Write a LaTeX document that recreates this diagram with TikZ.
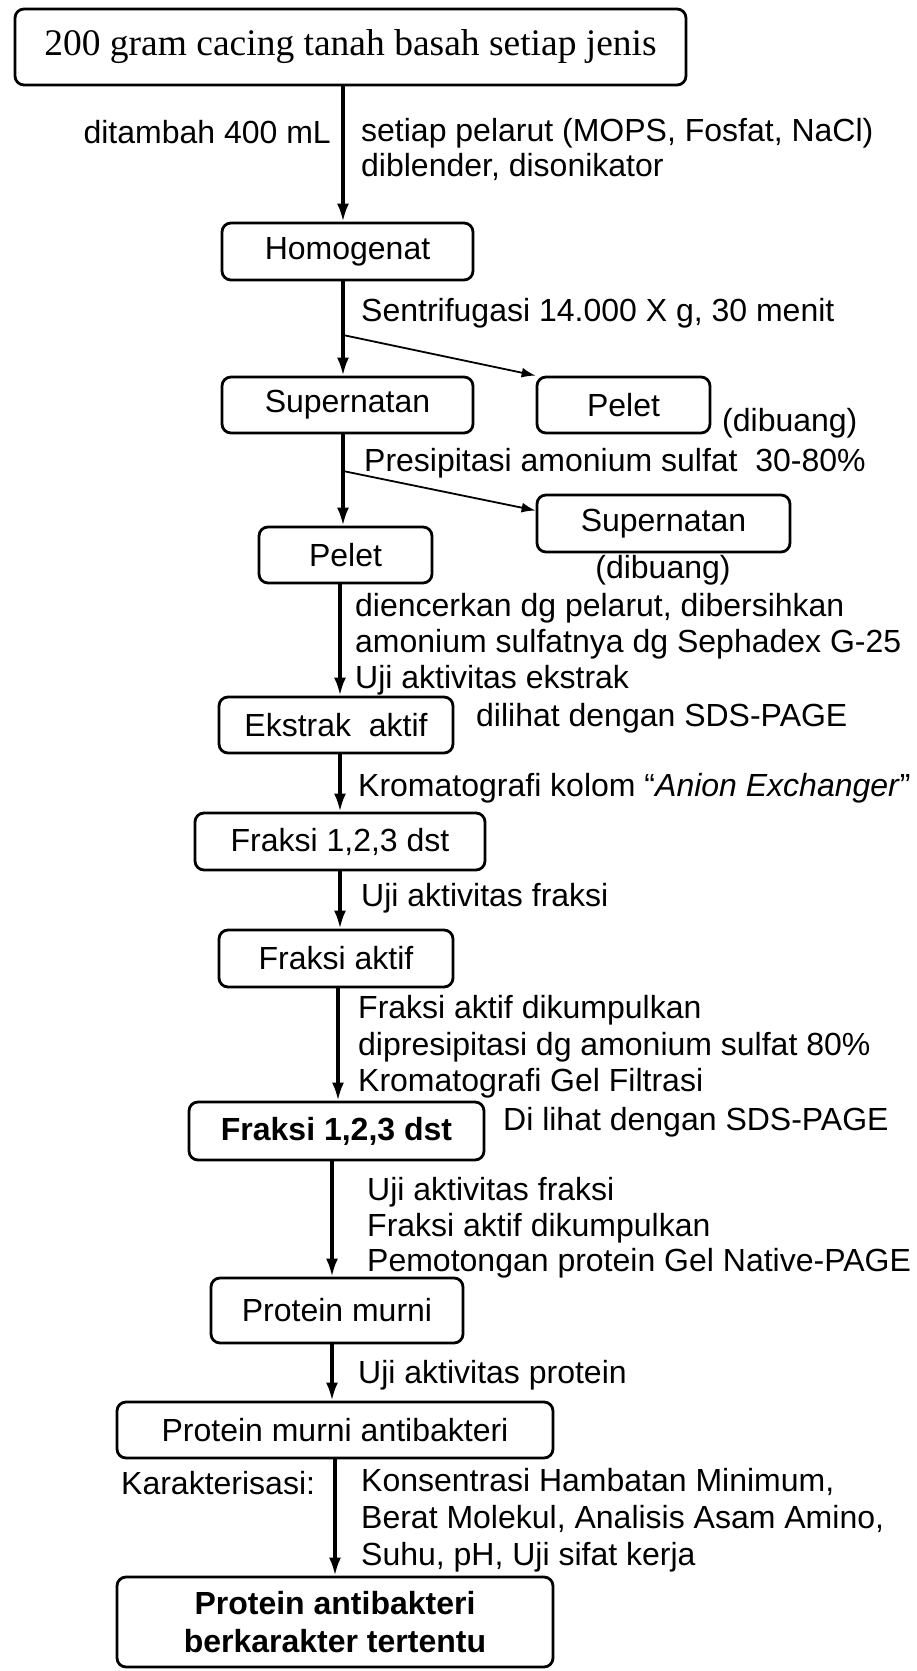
\documentclass[tikz,border=0pt]{standalone}
\usepackage{fontspec}
\setmainfont{Liberation Sans}
\newfontfamily\serifx{Liberation Serif}
\usepackage{tikz}
\usetikzlibrary{arrows.meta}
\newcommand{\txt}{\fontsize{32}{36}\selectfont}
\tikzset{
  box/.style={draw,line width=2.8pt,rounded corners=9pt,inner sep=0pt,align=center,font=\txt},
  ar/.style={-{Latex[length=18pt,width=12pt]},line width=3.2pt},
  arthin/.style={-{Latex[length=14pt,width=10pt]},line width=1.8pt},
  lbl/.style={inner sep=0pt,align=left,anchor=west,font=\txt}
}
\begin{document}
\begin{tikzpicture}[x=1pt,y=-1pt]
\useasboundingbox (0,0) rectangle (917,1671);
% boxes of the main column
\node[box,font=\serifx\fontsize{37.5}{40}\selectfont,minimum width=671pt,minimum height=76pt] (top) at (350.5,47) {200 gram cacing tanah basah setiap jenis};
\node[box,minimum width=251pt,minimum height=57pt] (homog) at (347.5,251.5) {Homogenat};
\node[box,minimum width=251pt,minimum height=56pt] (super1) at (347.5,405) {Supernatan};
\node[box,minimum width=173pt,minimum height=56pt] (pelet1) at (623.5,405) {Pelet};
\node[box,minimum width=253pt,minimum height=57pt] (super2) at (663.5,523.5) {Supernatan};
\node[box,minimum width=173pt,minimum height=56pt] (pelet2) at (345.5,555) {Pelet};
\node[box,minimum width=234pt,minimum height=56pt] (ekstrak) at (336,725) {Ekstrak\ \ aktif};
\node[box,minimum width=290pt,minimum height=57pt] (fraksi1) at (340,841.5) {Fraksi 1,2,3 dst};
\node[box,minimum width=234pt,minimum height=57pt] (faktif) at (336,958.5) {Fraksi aktif};
\node[box,font=\txt\bfseries,minimum width=295pt,minimum height=58pt] (fraksi2) at (336.5,1131) {Fraksi 1,2,3 dst};
\node[box,minimum width=252pt,minimum height=65pt] (murni) at (337,1310.5) {Protein murni};
\node[box,minimum width=436pt,minimum height=56pt] (antibak) at (335,1430) {Protein murni antibakteri};
\node[box,font=\fontsize{32}{38}\selectfont\bfseries,minimum width=436pt,minimum height=90pt] (final) at (335,1622) {Protein antibakteri\\berkarakter tertentu};
% main arrows
\coordinate (s1) at (343,0);
\coordinate (s2) at (340,0);
\coordinate (s3) at (338,0);
\coordinate (s4) at (332,0);
\coordinate (s5) at (335,0);
\draw[ar] (top.south -| s1) -- (homog.north -| s1);
\draw[ar] (homog.south -| s1) -- (super1.north -| s1);
\draw[ar] (super1.south -| s1) -- (pelet2.north -| s1);
\draw[ar] (pelet2.south -| s2) -- (ekstrak.north -| s2);
\draw[ar] (ekstrak.south -| s2) -- (fraksi1.north -| s2);
\draw[ar] (fraksi1.south -| s2) -- (faktif.north -| s2);
\draw[ar] (faktif.south -| s3) -- (fraksi2.north -| s3);
\draw[ar] (fraksi2.south -| s4) -- (murni.north -| s4);
\draw[ar] (murni.south -| s4) -- (antibak.north -| s4);
\draw[ar] (antibak.south -| s5) -- (final.north -| s5);
% side branches
\coordinate (b1) at (343,335);
\coordinate (b2) at (343,471);
\draw[arthin] (b1) -- (pelet1.north west);
\draw[arthin] (b2) -- ([yshift=13pt]super2.west);
% labels
\node[lbl,anchor=east] (l1) at (331,132) {ditambah 400 mL};
\node[lbl,font=\fontsize{32}{35}\selectfont] (l2) at (361,149.5) {setiap pelarut (MOPS, Fosfat, NaCl)\\diblender, disonikator};
\node[lbl] (l3) at (361,313) {Sentrifugasi 14.000 X g, 30 menit};
\node[lbl] (l4) at (722,423) {(dibuang)};
\node[lbl] (l5) at (364,463) {Presipitasi amonium sulfat\ \ 30-80\%};
\node[lbl,anchor=center] (l6) at (663,570) {(dibuang)};
\node[lbl] (l7) at (355,644) {diencerkan dg pelarut, dibersihkan\\amonium sulfatnya dg Sephadex G-25\\Uji aktivitas ekstrak};
\node[lbl] (l8) at (476,718) {dilihat dengan SDS-PAGE};
\node[lbl] (l9) at (358,788) {Kromatografi kolom “\textit{Anion Exchanger}”};
\node[lbl] (l10) at (361,898) {Uji aktivitas fraksi};
\node[lbl,font=\fontsize{32}{36.5}\selectfont] (l11) at (358,1047) {Fraksi aktif dikumpulkan\\dipresipitasi dg amonium sulfat 80\%\\Kromatografi Gel Filtrasi};
\node[lbl] (l12) at (503,1122) {Di lihat dengan SDS-PAGE};
\node[lbl,font=\fontsize{32}{35.5}\selectfont] (l13) at (367,1228) {Uji aktivitas fraksi\\Fraksi aktif dikumpulkan\\Pemotongan protein Gel Native-PAGE};
\node[lbl] (l14) at (358,1375) {Uji aktivitas protein};
\node[lbl] (l15) at (121,1483) {Karakterisasi:};
\node[lbl,font=\fontsize{32}{37}\selectfont] (l16) at (361,1520) {Konsentrasi Hambatan Minimum,\\Berat Molekul, Analisis Asam Amino,\\Suhu, pH, Uji sifat kerja};
\end{tikzpicture}
\end{document}
